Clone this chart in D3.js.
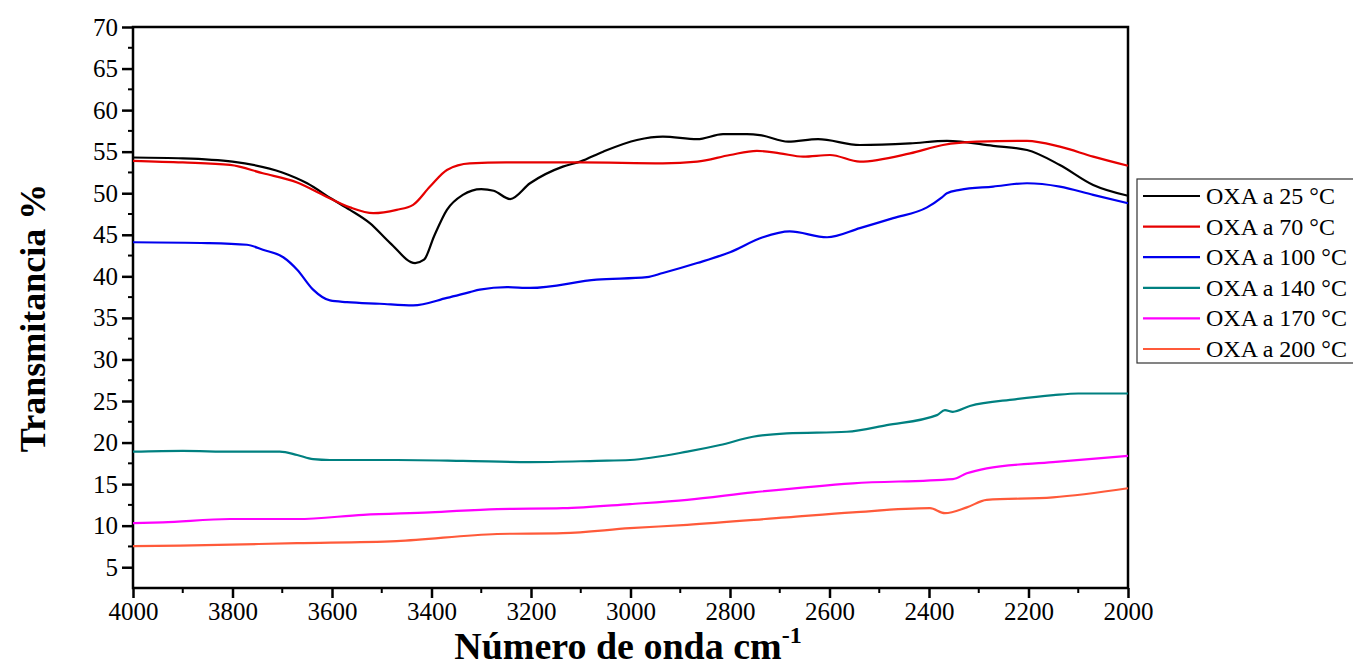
<!DOCTYPE html>
<html>
<head>
<meta charset="utf-8">
<script src="https://cdn.jsdelivr.net/npm/d3@7"></script>
<style>
  body { margin: 0; background: #fff; }
  text { font-family: "Liberation Serif", "Times New Roman", serif; }
</style>
</head>
<body>
<svg id="chart" width="1353" height="669"></svg>
<script>
// wavenumbers (cm-1) and transmittance
var wave25 = [4000, 3900, 3800, 3700, 3650, 3600, 3564, 3524, 3483, 3433, 3415, 3395, 3369, 3337, 3300, 3275, 3242, 3202, 3136, 3101, 3055, 2987, 2935, 2866, 2814, 2766, 2740, 2683, 2623, 2539, 2438, 2364, 2271, 2203, 2137, 2070, 2000];
var oxa25  = [54.3, 54.2, 53.8, 52.5, 51.2, 49.3, 48.0, 46.4, 44.0, 41.6, 42.0, 44.8, 48.0, 49.8, 50.5, 50.3, 49.3, 51.2, 53.2, 53.8, 55.0, 56.4, 56.8, 56.5, 57.1, 57.1, 57.0, 56.2, 56.5, 55.8, 56.0, 56.3, 55.7, 55.2, 53.4, 51.0, 49.7];

var wave70 = [4000, 3900, 3805, 3739, 3670, 3618, 3564, 3517, 3470, 3437, 3403, 3369, 3323, 3250, 3100, 2935, 2866, 2800, 2746, 2700, 2653, 2599, 2539, 2438, 2372, 2304, 2203, 2137, 2070, 2000];
var oxa70  = [53.9, 53.7, 53.4, 52.4, 51.3, 49.8, 48.3, 47.6, 48.0, 48.6, 50.8, 52.8, 53.6, 53.7, 53.7, 53.6, 53.8, 54.6, 55.1, 54.8, 54.4, 54.6, 53.8, 54.8, 55.8, 56.2, 56.3, 55.6, 54.4, 53.3];

var wave100 = [4000, 3850, 3771, 3739, 3698, 3670, 3638, 3604, 3570, 3504, 3437, 3369, 3323, 3303, 3248, 3202, 3068, 2967, 2935, 2866, 2800, 2734, 2680, 2605, 2539, 2472, 2404, 2374, 2364, 2338, 2271, 2203, 2137, 2070, 2000];
var oxa100  = [44.1, 44.0, 43.8, 43.2, 42.3, 40.8, 38.4, 37.1, 36.9, 36.7, 36.5, 37.4, 38.1, 38.4, 38.7, 38.6, 39.6, 39.9, 40.4, 41.6, 42.9, 44.7, 45.4, 44.7, 45.8, 47.0, 48.3, 49.5, 50.0, 50.4, 50.8, 51.2, 50.8, 49.8, 48.8];

var wave140 = [4000, 3900, 3800, 3705, 3670, 3638, 3604, 3470, 3337, 3202, 3068, 3001, 2886, 2820, 2754, 2686, 2565, 2485, 2384, 2368, 2352, 2318, 2227, 2150, 2100, 2000];
var oxa140  = [18.9, 19.0, 18.9, 18.9, 18.5, 18.0, 17.9, 17.9, 17.8, 17.65, 17.8, 17.9, 18.9, 19.7, 20.7, 21.1, 21.3, 22.1, 23.3, 23.9, 23.7, 24.4, 25.2, 25.7, 25.9, 25.9];

var wave170 = [4000, 3940, 3805, 3670, 3537, 3403, 3268, 3136, 3001, 2886, 2754, 2553, 2352, 2324, 2284, 2151, 2000];
var oxa170  = [10.3, 10.4, 10.8, 10.8, 11.3, 11.6, 12.0, 12.1, 12.6, 13.1, 14.0, 15.1, 15.6, 16.3, 16.9, 17.65, 18.4];

var wave200 = [4000, 3905, 3670, 3470, 3268, 3136, 3001, 2886, 2686, 2553, 2398, 2368, 2324, 2284, 2151, 2000];
var oxa200  = [7.55, 7.6, 7.9, 8.15, 9.0, 9.1, 9.7, 10.1, 11.0, 11.6, 12.1, 11.5, 12.2, 13.1, 13.4, 14.5];

var seriesNames = ["OXA a 25 °C", "OXA a 70 °C", "OXA a 100 °C", "OXA a 140 °C", "OXA a 170 °C", "OXA a 200 °C"];
var seriesColors = ["#000000", "#e60000", "#0000ee", "#008080", "#ff00ff", "#ff5a3a"];
var yTicks = [5, 10, 15, 20, 25, 30, 35, 40, 45, 50, 55, 60, 65, 70];
var xTicks = [4000, 3800, 3600, 3400, 3200, 3000, 2800, 2600, 2400, 2200, 2000];

var waves = [wave25, wave70, wave100, wave140, wave170, wave200];
var values = [oxa25, oxa70, oxa100, oxa140, oxa170, oxa200];

var svg = d3.select("#chart");
var plotL = 133, plotR = 1128, plotT = 27, plotB = 588;

var x = d3.scaleLinear().domain([4000, 2000]).range([plotL, plotR]);
var y = d3.scaleLinear().domain([2.5, 70]).range([plotB, plotT]);

// frame
svg.append("rect")
    .attr("x", plotL).attr("y", plotT)
    .attr("width", plotR - plotL).attr("height", plotB - plotT)
    .attr("fill", "none").attr("stroke", "#000").attr("stroke-width", 2.5);

// minor ticks
var xMinor = d3.range(3900, 2000, -200);
svg.selectAll(".xminor").data(xMinor).enter().append("line")
    .attr("x1", d => x(d)).attr("x2", d => x(d))
    .attr("y1", plotB).attr("y2", plotB + 5)
    .attr("stroke", "#000").attr("stroke-width", 2);
var yMinor = d3.range(7.5, 70, 5);
svg.selectAll(".yminor").data(yMinor).enter().append("line")
    .attr("x1", plotL - 5).attr("x2", plotL)
    .attr("y1", d => y(d)).attr("y2", d => y(d))
    .attr("stroke", "#000").attr("stroke-width", 2);

var xAxis = d3.axisBottom(x).tickValues(xTicks).tickSize(10).tickPadding(4).tickFormat(d3.format("d"));
var yAxis = d3.axisLeft(y).tickValues(yTicks).tickSize(11).tickPadding(4);

var gx = svg.append("g").attr("transform", "translate(0," + plotB + ")").call(xAxis);
var gy = svg.append("g").attr("transform", "translate(" + plotL + ",0)").call(yAxis);
[gx, gy].forEach(function(g) {
    g.select(".domain").remove();
    g.selectAll("line").attr("stroke", "#000").attr("stroke-width", 2.5);
    g.selectAll("text").attr("fill", "#000").style("font-size", "25px")
        .style("font-family", "'Liberation Serif', serif");
});

// curves
var line = d3.line()
    .x(d => x(d[0]))
    .y(d => y(d[1]))
    .curve(d3.curveMonotoneX);

values.forEach(function(vals, i) {
    var pts = waves[i].map((w, j) => [w, vals[j]]);
    svg.append("path")
        .datum(pts)
        .attr("d", line)
        .attr("fill", "none")
        .attr("stroke", seriesColors[i])
        .attr("stroke-width", 2.2);
});

// axis titles
svg.append("text")
    .attr("x", 628).attr("y", 659)
    .attr("text-anchor", "middle")
    .style("font-size", "38px").style("font-weight", "bold")
    .html('Número de onda cm<tspan dy="-16" font-size="24px">-1</tspan>');

svg.append("text")
    .attr("transform", "translate(45,318) rotate(-90)")
    .attr("text-anchor", "middle")
    .style("font-size", "36px").style("font-weight", "bold")
    .text("Transmitancia %");

// legend
var legend = svg.append("g");
legend.append("rect")
    .attr("x", 1137).attr("y", 179)
    .attr("width", 240).attr("height", 184)
    .attr("fill", "#fff").attr("stroke", "#333").attr("stroke-width", 1.2);
seriesNames.forEach(function(name, i) {
    var cy = 196 + i * 30.6;
    legend.append("line")
        .attr("x1", 1143).attr("x2", 1200)
        .attr("y1", cy).attr("y2", cy)
        .attr("stroke", seriesColors[i]).attr("stroke-width", 2.2);
    legend.append("text")
        .attr("x", 1206).attr("y", cy + 8)
        .style("font-size", "24px")
        .text(name);
});
</script>
</body>
</html>
